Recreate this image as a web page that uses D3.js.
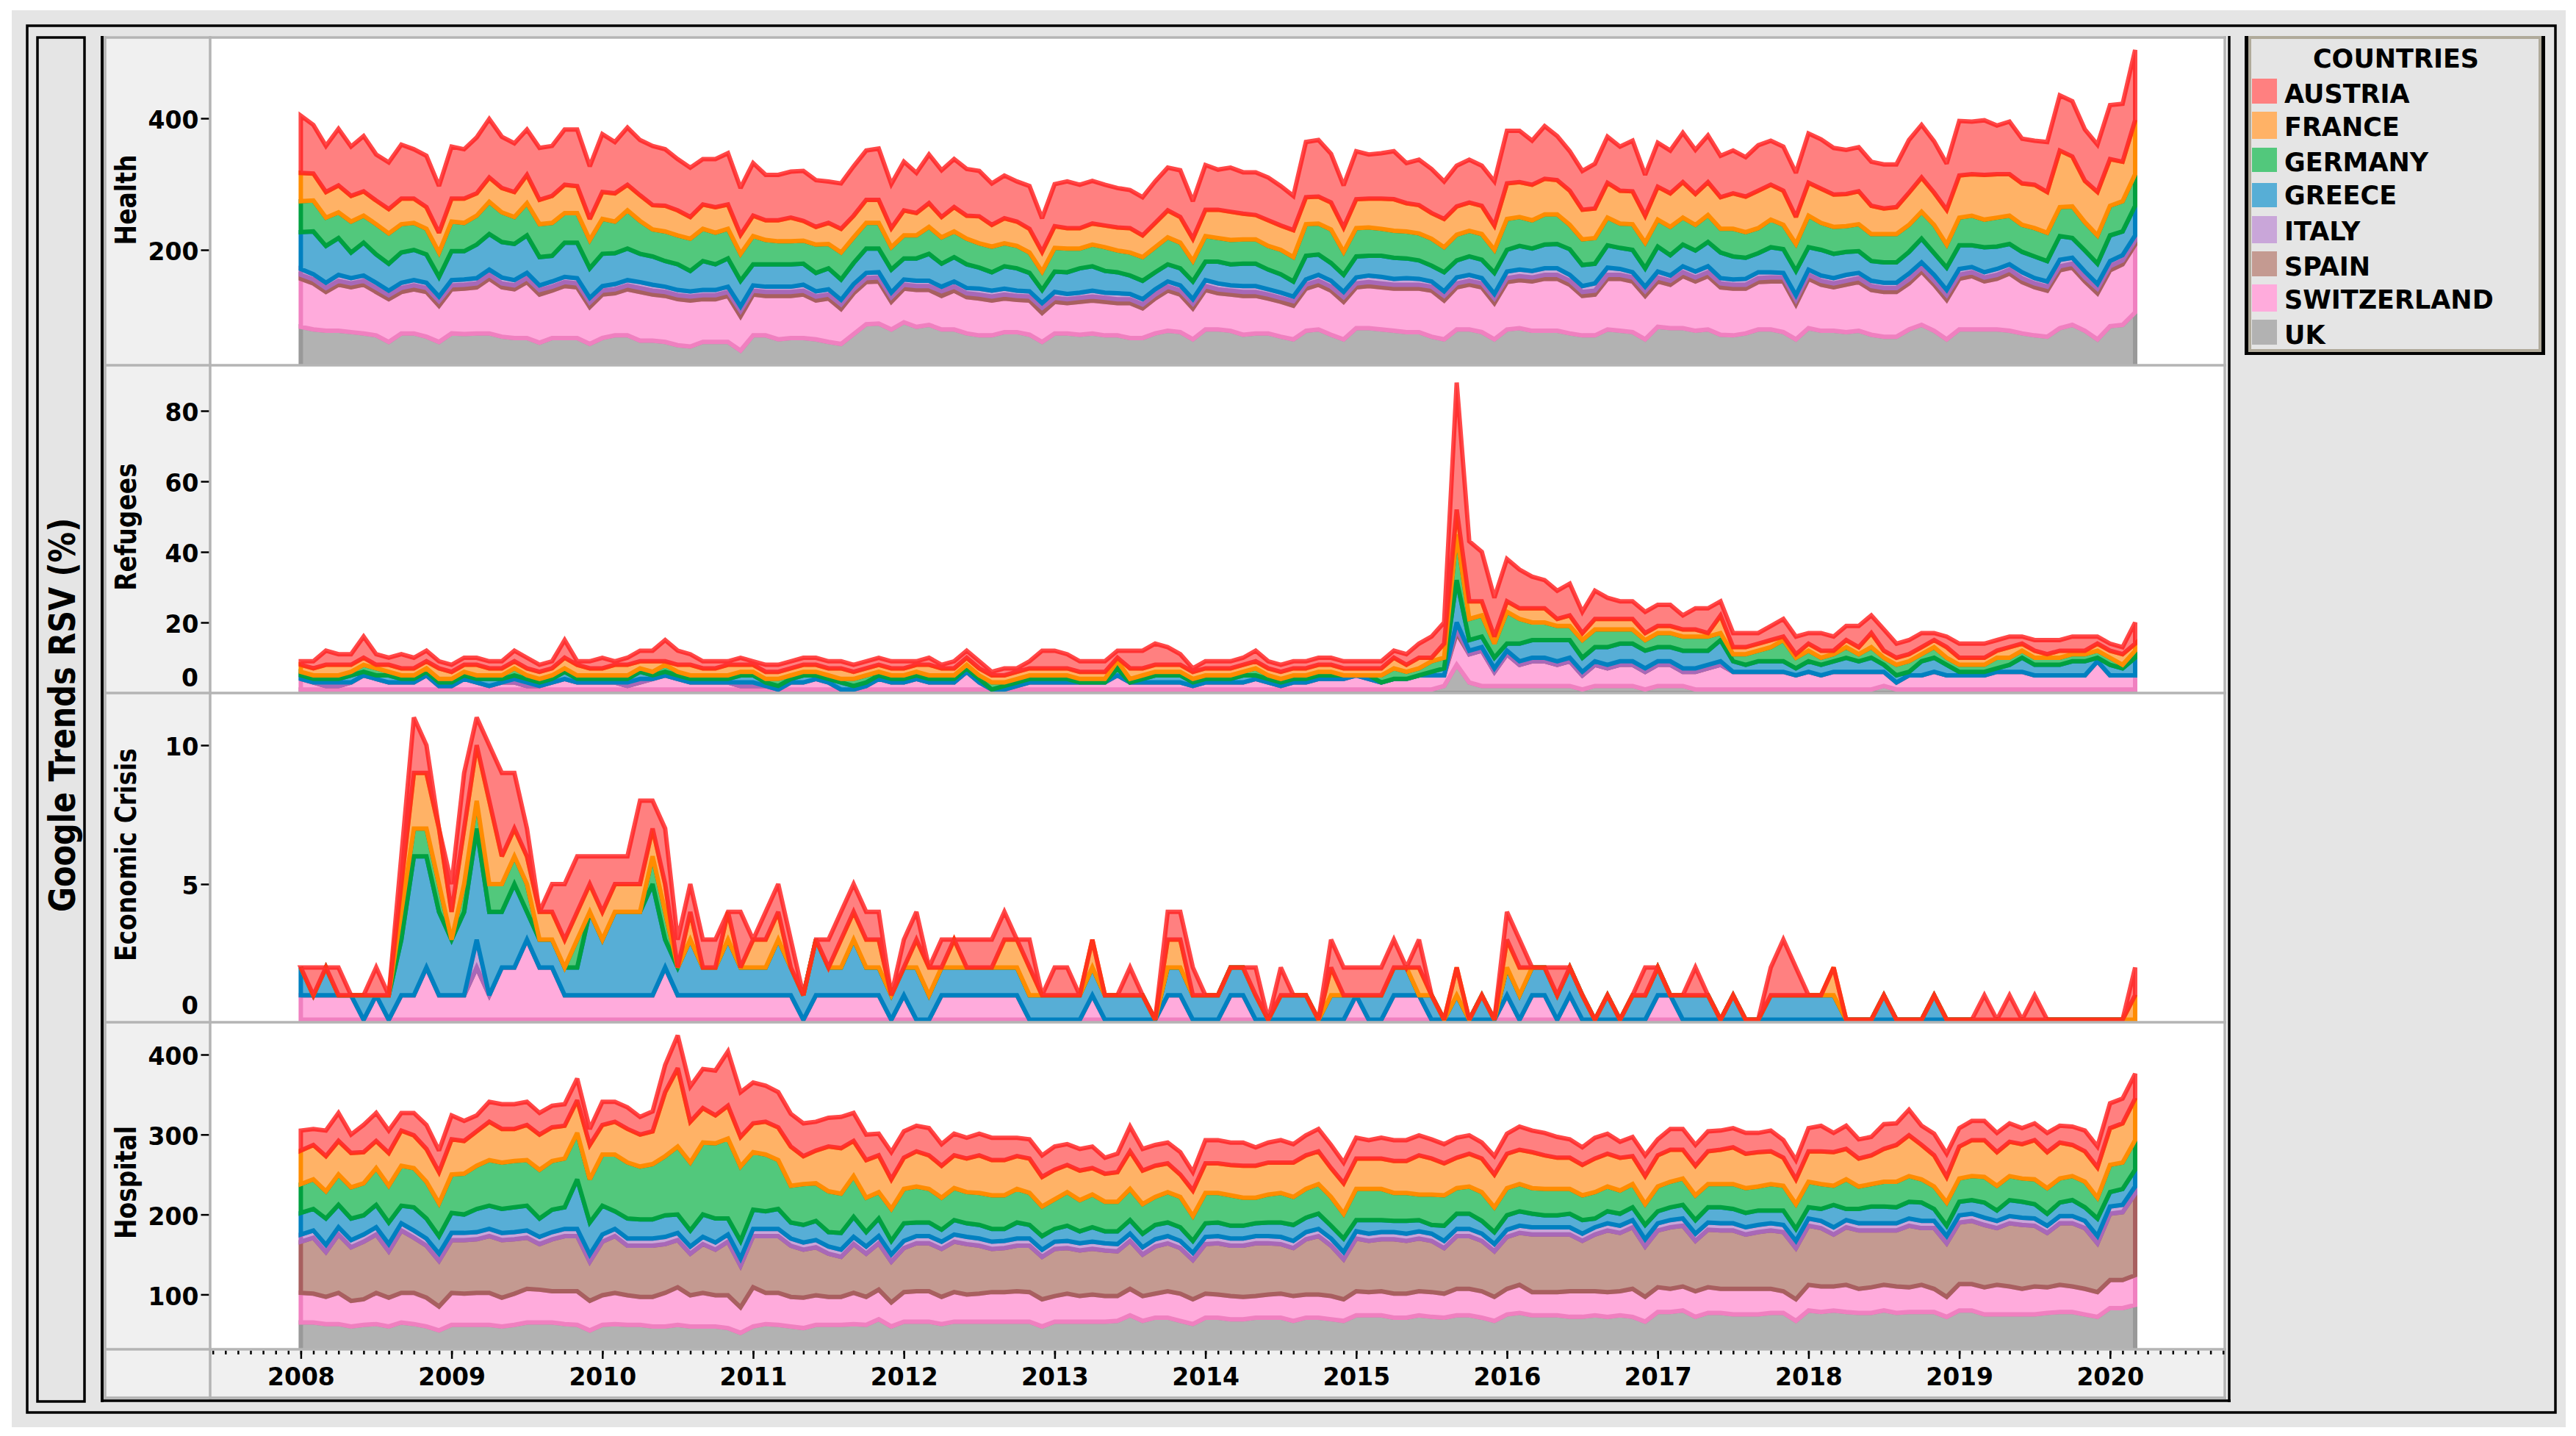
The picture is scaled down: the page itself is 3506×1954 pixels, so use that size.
<!DOCTYPE html>
<html><head><meta charset="utf-8">
<script src="https://cdn.jsdelivr.net/npm/d3@7"></script>
<style>html,body{margin:0;padding:0;background:#fff}svg{display:block}text{font-family:"DejaVu Sans",sans-serif;font-weight:bold;fill:#000}</style>
</head><body><svg id="c" width="3506" height="1954"></svg>
<script>
const yearLabels=[2008,2009,2010,2011,2012,2013,2014,2015,2016,2017,2018,2019,2020];
const countries=["UK","SWITZERLAND","SPAIN","ITALY","GREECE","GERMANY","FRANCE","AUSTRIA"];
const legendOrder=["AUSTRIA","FRANCE","GERMANY","GREECE","ITALY","SPAIN","SWITZERLAND","UK"];
const fillColors=["#b2b2b2","#ffabdc","#c49a91","#c9a6d9","#57aed6","#52c87c","#ffb266","#ff8080"];
const lineColors=["#999999","#f080c0","#a85f5f","#a868b8","#0080c0","#00a040","#ff8c00","#ff2020"];
const lineAlpha=[1,1,1,1,1,1,1,0.82];

// HEALTH
const healthAustria=[87,74,70,86,75,84,70,71,82,75,
78,71,79,75,85,89,78,74,69,79,
76,84,86,80,88,78,87,84,90,86,
78,75,69,73,78,71,80,69,69,70,
76,71,63,69,75,75,78,67,74,61,
74,71,73,71,69,63,65,61,65,51,
64,71,66,65,62,60,58,58,63,65,
71,57,68,61,67,63,65,65,60,52,
84,86,74,64,73,67,69,73,61,69,
67,57,62,65,61,67,80,78,67,80,
67,60,59,68,70,67,77,62,67,65,
75,67,71,63,65,60,69,67,67,67,
75,75,71,67,67,67,67,65,80,80,
78,70,83,80,83,74,80,68,67,76,
84,84,78,72,82,88,107];
const healthFrance=[43,41,39,41,39,37,36,37,39,37,
33,30,35,37,34,37,37,38,43,37,
41,43,41,32,41,43,39,39,37,39,
38,33,37,39,37,29,31,30,32,36,
30,27,32,36,33,35,35,29,38,34,
36,31,37,35,41,33,38,37,36,30,
33,31,31,32,33,35,37,33,37,41,
39,34,40,43,43,39,37,39,37,41,
41,41,41,37,44,44,46,48,43,43,
39,43,43,43,43,37,54,53,54,54,
52,52,45,45,53,50,50,41,50,51,
54,47,50,48,54,54,57,53,52,41,
50,52,49,49,50,43,39,41,49,52,
49,53,64,63,68,66,63,63,66,62,
86,76,63,66,71,60,82];
const healthGermany=[47,47,43,39,47,41,46,46,43,41,
39,37,45,43,44,49,45,41,49,50,
50,45,45,43,53,48,58,50,41,45,
44,49,49,48,45,41,43,37,35,35,
35,43,37,41,39,39,39,34,35,35,
41,40,39,39,37,39,35,34,31,28,
36,36,30,33,36,33,35,36,38,41,
39,31,39,36,37,37,37,36,37,37,
48,47,51,35,43,43,41,41,41,41,
41,38,39,39,39,35,47,44,43,46,
45,37,39,39,42,37,39,39,41,43,
41,39,41,36,42,39,38,42,37,41,
48,41,41,39,41,41,43,43,41,41,
43,35,42,45,42,44,43,41,43,43,
44,48,43,43,45,46,48];
const healthGreece=[56,65,56,56,39,50,43,41,46,46,
43,30,44,43,51,54,54,55,57,43,
39,52,54,45,49,47,48,43,43,39,
39,31,44,39,43,39,32,34,34,34,
32,28,32,31,32,37,36,35,32,34,
41,35,37,36,32,28,34,34,28,20,
31,33,37,37,33,32,28,28,26,26,
26,27,28,33,32,34,34,30,28,23,
36,31,27,26,32,30,32,32,30,28,
24,29,26,28,28,32,33,36,34,36,
37,39,32,30,34,32,34,28,38,31,
33,32,37,39,35,32,29,38,36,37,
34,39,37,35,33,30,31,31,33,36,
33,34,36,33,38,34,31,31,33,31,
36,30,32,31,39,36,45];
const healthItaly=[9,8,8,9,8,8,8,7,8,8,
8,7,8,8,8,8,9,8,8,7,
8,8,8,7,7,8,8,9,9,8,
8,8,8,8,8,7,8,8,8,8,
9,8,8,7,8,8,8,7,8,8,
8,7,8,8,9,9,9,8,8,7,
9,8,8,9,8,9,8,8,8,8,
8,7,9,9,8,9,9,8,8,7,
8,9,9,8,9,10,10,9,10,9,
8,7,9,9,8,7,10,10,10,10,
10,9,9,11,11,9,8,7,9,8,
9,9,9,8,8,9,9,8,7,7,
8,8,8,9,8,8,8,8,9,8,
9,8,9,8,8,9,8,9,8,8,
10,9,9,7,8,8,8];
const healthSpain=[6,6,6,6,6,6,6,6,6,6,
6,7,6,6,6,6,6,6,6,7,
6,6,6,7,6,6,6,6,6,6,
6,6,6,6,6,8,6,6,6,6,
6,6,6,7,6,6,6,7,6,6,
6,7,6,6,6,6,6,6,6,8,
6,6,6,6,6,6,6,6,6,6,
6,7,6,6,6,6,6,6,6,7,
6,6,6,7,6,6,6,6,6,6,
6,7,6,6,6,7,6,6,6,6,
6,6,6,6,6,6,6,7,6,6,
6,6,6,6,6,6,6,6,6,7,
6,6,6,6,6,6,6,6,6,6,
6,7,6,6,6,6,6,6,6,6,
6,6,6,7,6,6,6];
const healthSwitzerland=[73,70,59,70,68,74,66,65,63,67,
68,55,67,69,70,83,75,74,85,73,
72,79,77,56,66,64,70,74,70,70,
70,70,65,65,70,52,62,60,66,64,
66,59,66,53,62,64,64,42,51,56,
53,51,59,55,56,53,51,49,52,44,
48,46,50,50,51,49,53,45,53,61,
57,47,60,55,55,59,57,53,53,51,
64,68,67,57,62,64,64,64,66,66,
70,59,64,68,68,55,72,73,75,79,
79,74,60,62,77,79,77,66,69,66,
79,75,81,72,71,68,72,73,77,53,
75,70,66,72,74,68,68,68,70,81,
70,60,77,81,73,77,87,78,73,70,
88,87,75,70,85,92,103];
const healthUK=[83,79,77,77,75,73,70,60,73,73,
68,60,73,72,73,73,68,66,66,59,
66,66,66,57,66,70,70,62,62,60,
55,53,60,60,60,47,70,70,64,66,
66,64,60,57,72,87,88,79,90,83,
86,79,79,73,70,70,75,75,71,60,
73,73,71,73,70,70,66,66,73,77,
75,64,79,79,77,71,73,73,68,64,
77,79,71,64,81,81,79,77,75,75,
68,64,79,79,75,64,79,81,77,77,
77,73,70,70,79,77,75,64,83,81,
81,77,79,71,70,73,79,79,75,64,
81,77,77,75,77,71,68,68,79,86,
77,64,79,79,79,79,77,73,70,68,
81,86,77,64,84,86,105];

// REFUGEES
const refugeesAustria=[1,2,4,3,3,6,3,2,4,3,
3,2,2,2,2,2,2,3,3,2,
2,5,1,2,3,1,2,3,3,6,
4,3,2,2,1,2,1,2,2,2,
2,2,2,2,2,2,2,2,2,1,
2,1,2,2,2,1,2,1,2,5,
5,4,3,3,3,2,5,5,6,5,
3,1,2,2,2,2,3,2,2,2,
2,2,2,2,2,2,2,2,3,4,
6,6,36,17,14,11,12,11,9,8,
8,9,6,8,6,5,5,6,6,6,
4,6,7,4,4,4,3,4,5,5,
3,5,4,4,6,5,6,4,4,4,
2,3,4,4,4,3,3,2,3,4,
3,4,4,2,2,2,6];
const refugeesFrance=[2,2,3,3,2,2,1,2,2,2,
2,3,2,2,3,2,2,2,2,2,
2,3,3,2,2,3,3,2,3,1,
2,3,2,2,3,2,2,2,2,2,
2,2,2,3,2,2,2,2,2,2,
3,2,2,2,2,2,2,2,2,2,
2,2,2,2,2,1,3,2,2,2,
2,2,2,2,2,2,2,2,2,2,
2,2,2,2,2,2,2,3,2,3,
1,4,7,5,4,2,3,3,4,4,
2,3,2,3,3,3,3,2,2,2,
2,2,1,5,2,2,2,2,1,1,
2,2,1,2,2,4,2,2,2,2,
2,3,2,2,2,2,3,2,2,1,
2,1,1,2,2,3,2];
const refugeesGermany=[1,1,1,1,1,2,2,1,1,1,
1,1,1,1,1,1,1,2,1,1,
1,1,1,1,1,1,1,1,1,2,
1,1,1,1,1,1,1,1,2,1,
1,1,1,1,2,2,1,1,1,1,
1,1,1,1,1,2,1,1,1,1,
1,1,1,1,1,2,1,1,1,1,
1,1,1,1,1,1,2,1,1,1,
1,1,1,0,0,0,2,3,2,2,
3,3,13,6,6,4,9,7,5,5,
4,4,5,5,5,4,4,3,4,4,
4,4,4,2,2,3,3,4,6,3,
3,2,2,3,2,3,2,3,3,2,
3,2,2,2,2,3,2,2,2,2,
2,2,2,2,2,1,2];
const refugeesGreece=[1,1,1,1,2,1,1,2,1,1,
1,1,1,1,1,2,1,1,1,1,
1,2,1,1,1,1,1,2,1,1,
1,1,1,1,1,2,2,1,1,1,
2,1,1,2,1,1,1,1,1,1,
1,1,1,1,1,0,1,1,1,1,
1,1,0,0,0,2,0,1,2,2,
2,1,1,1,1,2,1,1,1,1,
1,1,1,1,0,1,0,0,0,0,
1,2,12,3,3,3,2,5,5,5,
6,5,4,4,5,5,5,5,4,4,
5,5,4,6,3,2,3,3,3,2,
3,3,3,4,3,4,2,2,1,4,
4,3,1,1,1,1,2,4,3,3,
3,4,4,1,3,2,5];
const refugeesItaly=[0,0,1,1,0,0,0,0,0,0,
0,0,0,0,0,0,0,1,1,0,
0,0,0,0,0,0,1,1,0,0,
0,0,0,0,0,1,1,0,0,0,
0,0,0,0,0,0,0,0,0,0,
0,0,0,0,0,0,0,0,0,0,
0,0,0,0,0,0,0,0,0,0,
0,0,0,0,0,0,0,0,0,0,
0,0,0,0,0,0,0,0,0,0,
0,0,2,1,1,1,1,1,1,1,
1,1,1,1,1,1,1,1,1,1,
1,1,1,1,0,0,0,0,0,0,
0,0,0,0,0,0,0,0,0,0,
0,0,0,0,0,0,0,0,0,0,
0,0,0,0,0,0,0];
const refugeesSpain=[0,0,0,0,0,0,0,0,0,0,
0,0,0,0,0,0,0,0,0,0,
0,0,0,0,0,0,0,0,0,0,
0,0,0,0,0,0,0,0,0,0,
0,0,0,0,0,0,0,0,0,0,
0,0,0,0,0,0,0,0,0,0,
0,0,0,0,0,0,0,0,0,0,
0,0,0,0,0,0,0,0,0,0,
0,0,0,0,0,0,0,0,0,0,
0,0,1,0,0,0,0,0,0,0,
0,0,0,0,0,0,0,0,0,0,
0,0,0,0,0,0,0,0,0,0,
0,0,0,0,0,0,0,0,0,0,
0,0,0,0,0,0,0,0,0,0,
0,0,0,0,0,0,0];
const refugeesSwitzerland=[3,2,1,1,2,4,3,2,2,2,
4,1,1,3,2,1,2,2,1,1,
2,3,2,2,2,2,1,2,3,4,
3,2,2,2,2,1,1,1,0,2,
2,3,2,0,0,1,3,2,2,3,
2,2,2,5,2,0,0,1,2,2,
2,2,2,2,2,4,2,2,2,2,
2,1,2,2,2,2,3,2,1,2,
2,3,3,3,4,3,2,3,3,4,
4,3,9,8,10,4,9,6,7,7,
6,7,4,6,5,6,6,5,6,6,
4,5,6,7,5,5,5,5,5,4,
5,4,5,5,5,5,4,2,4,4,
5,4,4,4,4,5,5,5,4,4,
4,4,4,8,4,4,4];
const refugeesUK=[1,1,1,1,1,1,1,1,1,1,
1,1,1,1,1,1,1,1,1,1,
1,1,1,1,1,1,1,1,1,1,
1,1,1,1,1,1,1,1,1,1,
1,1,1,1,1,1,1,1,1,1,
1,1,1,1,1,1,1,1,1,1,
1,1,1,1,1,1,1,1,1,1,
1,1,1,1,1,1,1,1,1,1,
1,1,1,1,1,1,1,1,1,1,
1,2,8,3,2,2,2,2,2,2,
2,2,1,2,2,2,2,1,2,2,
2,1,1,1,1,1,1,1,1,1,
1,1,1,1,1,1,2,1,1,1,
1,1,1,1,1,1,1,1,1,1,
1,1,1,1,1,1,1];

// ECONOMIC CRISIS
const crisisAustria=[0,1,0,1,0,0,1,0,1,2,
1,0,1,2,1,2,3,2,1,0,
1,2,2,1,2,1,1,3,1,2,
1,1,1,1,0,2,0,1,1,1,
0,0,1,1,1,1,1,0,1,1,
0,1,0,1,1,1,1,0,1,0,
1,1,0,0,0,0,1,0,0,1,
1,1,0,0,0,0,1,0,1,0,
0,0,1,1,1,1,1,1,0,1,
0,0,0,0,0,0,1,1,0,0,
1,0,0,0,0,0,0,1,0,0,
0,1,0,0,0,0,0,1,2,1,
0,0,0,0,0,0,0,0,0,0,
0,0,0,0,1,0,1,0,1,0,
0,0,0,0,0,0,1];
const crisisFrance=[0,0,0,0,0,0,0,0,1,2,
2,2,1,2,2,3,1,1,1,1,
1,1,1,1,1,1,1,1,1,1,
0,1,0,0,1,0,1,1,1,0,
0,0,0,1,1,1,1,0,0,1,
1,0,1,0,0,0,1,1,1,0,
0,0,0,1,0,0,0,0,0,1,
1,0,0,0,0,0,0,0,0,0,
0,0,1,0,0,0,0,0,0,1,
0,0,1,0,0,0,1,1,0,0,
0,0,0,0,0,0,0,0,0,0,
0,0,0,0,0,0,0,0,0,0,
0,0,1,0,0,0,0,0,0,0,
0,0,0,0,0,0,0,0,0,0,
0,0,0,0,0,0,1];
const crisisGermany=[0,0,0,0,0,0,0,0,1,1,
1,1,0,1,1,1,1,1,1,0,
0,0,1,0,0,0,0,0,1,1,
0,0,0,0,0,0,0,0,0,0,
0,0,0,0,0,0,0,0,0,0,
0,0,0,0,0,0,0,0,0,0,
0,0,0,0,0,0,0,0,0,0,
0,0,0,0,0,0,0,0,0,0,
0,0,0,0,0,0,0,0,0,0,
0,0,0,0,0,0,0,0,0,0,
0,0,0,0,0,0,0,0,0,0,
0,0,0,0,0,0,0,0,0,0,
0,0,0,0,0,0,0,0,0,0,
0,0,0,0,0,0,0,0,0,0,
0,0,0,0,0,0,0];
const crisisGreece=[1,0,1,0,0,1,0,1,2,5,
4,3,2,3,4,3,2,3,1,1,
1,1,1,3,2,3,3,3,4,1,
1,2,1,1,2,1,1,1,2,1,
1,2,1,1,2,1,1,1,1,2,
1,1,1,1,1,1,1,1,1,1,
1,1,1,1,1,1,1,1,0,1,
1,1,1,1,1,1,1,0,1,1,
1,0,1,1,0,1,1,1,1,0,
1,0,1,0,1,0,1,1,1,1,
1,1,1,0,1,0,1,1,1,0,
1,1,1,0,1,0,0,1,1,1,
1,1,1,0,0,0,1,0,0,0,
1,0,0,0,0,0,0,0,0,0,
0,0,0,0,0,0,0];
const crisisItaly=[0,0,0,0,0,0,0,0,0,0,
0,0,0,0,1,0,0,0,0,0,
0,0,0,0,0,0,0,0,0,0,
0,0,0,0,0,0,0,0,0,0,
0,0,0,0,0,0,0,0,0,0,
0,0,0,0,0,0,0,0,0,0,
0,0,0,0,0,0,0,0,0,0,
0,0,0,0,0,0,0,0,0,0,
0,0,0,0,0,0,0,0,0,0,
0,0,0,0,0,0,0,0,0,0,
0,0,0,0,0,0,0,0,0,0,
0,0,0,0,0,0,0,0,0,0,
0,0,0,0,0,0,0,0,0,0,
0,0,0,0,0,0,0,0,0,0,
0,0,0,0,0,0,0];
const crisisSpain=[0,0,0,0,0,0,0,0,0,0,
0,0,0,0,0,0,0,0,0,0,
0,0,0,0,0,0,0,0,0,0,
0,0,0,0,0,0,0,0,0,0,
0,0,0,0,0,0,0,0,0,0,
0,0,0,0,0,0,0,0,0,0,
0,0,0,0,0,0,0,0,0,0,
0,0,0,0,0,0,0,0,0,0,
0,0,0,0,0,0,0,0,0,0,
0,0,0,0,0,0,0,0,0,0,
0,0,0,0,0,0,0,0,0,0,
0,0,0,0,0,0,0,0,0,0,
0,0,0,0,0,0,0,0,0,0,
0,0,0,0,0,0,0,0,0,0,
0,0,0,0,0,0,0];
const crisisSwitzerland=[1,1,1,1,1,0,1,0,1,1,
2,1,1,1,2,1,2,2,3,2,
2,1,1,1,1,1,1,1,1,2,
1,1,1,1,1,1,1,1,1,1,
0,1,1,1,1,1,1,0,1,0,
0,1,1,1,1,1,1,1,0,0,
0,0,0,1,0,0,0,0,0,1,
1,0,0,0,1,1,0,0,0,0,
0,0,0,0,1,0,0,1,1,1,
0,0,0,0,0,0,1,0,1,1,
0,1,0,0,0,0,0,0,1,1,
0,0,0,0,0,0,0,0,0,0,
0,0,0,0,0,0,0,0,0,0,
0,0,0,0,0,0,0,0,0,0,
0,0,0,0,0,0,0];
const crisisUK=[0,0,0,0,0,0,0,0,0,0,
0,0,0,0,0,0,0,0,0,0,
0,0,0,0,0,0,0,0,0,0,
0,0,0,0,0,0,0,0,0,0,
0,0,0,0,0,0,0,0,0,0,
0,0,0,0,0,0,0,0,0,0,
0,0,0,0,0,0,0,0,0,0,
0,0,0,0,0,0,0,0,0,0,
0,0,0,0,0,0,0,0,0,0,
0,0,0,0,0,0,0,0,0,0,
0,0,0,0,0,0,0,0,0,0,
0,0,0,0,0,0,0,0,0,0,
0,0,0,0,0,0,0,0,0,0,
0,0,0,0,0,0,0,0,0,0,
0,0,0,0,0,0,0];

// HOSPITAL
const hospitalAustria=[25,20,32,35,23,34,35,28,22,28,
30,27,30,25,20,25,31,31,29,27,
27,27,27,20,29,25,27,22,25,34,
41,44,49,56,68,56,51,45,44,41,
41,36,36,39,35,32,27,34,33,32,
34,27,27,26,27,28,28,23,24,27,
29,26,27,27,20,23,31,27,26,26,
28,23,29,29,28,29,23,25,28,23,
25,28,29,26,26,23,26,26,26,25,
24,24,25,23,20,23,25,29,27,28,
26,23,22,26,25,20,24,26,20,26,
26,26,25,24,24,26,24,26,22,24,
29,32,24,29,24,23,31,27,32,24,
27,29,23,24,24,24,23,20,21,24,
21,23,26,26,31,31,31];
const hospitalFrance=[42,43,44,42,43,39,34,41,44,41,
41,39,44,41,43,48,42,40,44,44,
42,41,41,43,37,41,42,40,41,80,
98,51,43,35,41,37,36,41,41,49,
35,41,56,57,44,47,46,37,39,44,
42,40,41,42,47,44,44,41,43,37,
37,34,37,33,35,37,47,42,39,36,
28,32,37,37,38,40,40,40,38,43,
42,41,36,38,38,38,38,40,40,49,
45,40,38,41,42,41,43,43,45,42,
39,39,38,42,41,41,35,35,39,40,
36,37,41,43,46,43,43,41,35,31,
38,41,42,38,35,36,41,46,51,43,
39,32,40,45,46,42,43,43,49,45,
45,39,38,38,46,49,52];
const hospitalGermany=[36,37,34,38,39,40,46,46,50,49,
46,41,48,51,54,57,58,58,57,61,
61,61,58,54,64,71,70,66,69,74,
85,85,90,94,100,93,72,71,61,46,
51,47,51,49,51,43,33,40,43,45,
42,40,40,39,40,42,42,42,40,37,
37,42,39,41,37,37,39,37,35,38,
38,31,38,37,38,35,32,35,37,35,
36,37,36,31,39,39,39,35,35,32,
38,38,32,34,36,31,34,34,32,33,
33,31,31,33,31,29,29,26,31,32,
33,31,29,29,31,31,30,33,31,31,
32,31,24,37,28,28,31,32,32,29,
28,29,29,30,32,31,30,29,31,32,
30,30,32,26,34,33,37];
const hospitalGreece=[27,27,33,28,27,24,28,27,22,29,
25,22,25,23,29,29,30,31,31,23,
28,27,62,40,36,22,25,24,24,27,
23,20,28,30,20,22,24,22,25,20,
22,24,18,21,25,18,22,17,22,17,
17,15,18,17,17,16,15,20,17,17,
16,19,15,18,15,16,17,17,18,17,
17,15,17,17,16,16,16,17,18,20,
18,19,16,17,14,17,15,14,16,14,
11,19,19,19,16,15,18,18,17,15,
15,17,17,11,15,15,16,18,15,16,
17,17,19,20,18,18,18,16,18,15,
14,15,28,14,18,21,21,20,21,23,
15,13,17,17,19,13,20,20,18,15,
17,20,17,22,18,20,21];
const hospitalItaly=[9,9,9,9,9,9,9,9,9,9,
9,9,9,9,9,9,9,9,9,9,
9,9,9,9,9,9,9,9,9,9,
9,9,9,9,9,9,9,9,9,9,
9,9,9,9,9,9,9,9,9,9,
9,9,9,9,9,9,9,9,9,9,
9,9,9,9,9,9,9,9,9,9,
9,9,9,9,9,9,9,9,9,9,
9,9,9,9,9,9,9,9,9,9,
9,9,9,9,9,9,9,9,9,9,
9,9,9,9,9,9,9,9,9,9,
9,9,9,9,9,9,9,9,9,9,
9,9,9,9,9,9,9,9,9,9,
9,9,9,9,9,9,9,9,9,9,
9,9,9,9,9,9,9];
const hospitalSpain=[64,70,56,73,67,72,73,58,78,69,
65,57,66,67,67,71,72,68,64,57,
65,69,69,49,67,71,62,64,64,61,
59,52,61,57,67,52,64,71,71,64,
60,60,54,50,61,54,58,51,55,60,
60,60,63,63,60,54,55,57,58,53,
59,57,57,57,57,56,60,52,59,60,
57,49,62,64,63,64,66,64,62,60,
69,73,63,50,66,64,65,68,66,66,
64,57,66,66,63,57,65,65,72,72,
72,71,63,71,77,73,77,63,71,77,
76,63,72,73,73,68,71,73,74,64,
74,73,65,72,73,71,68,70,77,71,
76,67,77,79,78,71,79,80,76,68,
77,79,76,61,83,85,102];
const hospitalSwitzerland=[37,36,34,39,32,32,39,36,37,39,
36,30,40,39,40,40,36,39,42,41,
39,41,42,37,37,39,37,35,37,42,
47,39,42,39,41,32,49,39,40,37,
38,37,35,35,39,35,37,30,37,38,
38,34,37,34,35,37,37,38,37,34,
32,35,32,34,32,31,33,31,30,33,
34,31,30,29,29,28,27,29,30,31,
29,29,29,27,30,29,30,30,30,30,
31,30,33,33,33,30,32,35,29,29,
29,32,32,30,31,30,35,31,31,29,
30,32,32,30,32,32,32,30,27,27,
32,32,30,34,30,32,32,33,31,34,
29,25,33,33,34,37,35,32,35,32,
34,32,32,31,35,35,37];
const hospitalUK=[65,65,63,63,60,62,63,60,65,63,
60,55,62,62,62,62,60,62,65,65,
65,63,62,55,62,63,62,62,60,60,
62,60,60,60,58,52,60,63,62,60,
58,62,62,62,63,62,69,60,66,66,
66,63,66,66,66,66,66,66,66,60,
66,66,66,66,66,67,74,67,71,71,
67,63,71,71,69,69,71,71,71,67,
71,71,69,67,74,74,74,71,71,74,
72,71,74,74,71,67,75,77,74,74,
74,72,72,74,72,74,72,66,78,78,
80,72,77,77,75,75,75,77,77,67,
80,78,80,78,77,77,80,77,78,78,
78,72,80,80,75,75,75,75,75,77,
78,78,75,72,83,83,87];

const healthTicks=[200,400], refugeesTicks=[20,40,60,80], crisisTicks=[5,10], hospitalTicks=[100,200,300,400];

const panelDefs=[
 {label:"Health",labelY:272,top:51,bottom:497,dom:[0,400],rng:[519,161],ticks:healthTicks,zeroY:null,floor:600,
  series:[healthUK,healthSwitzerland,healthSpain,healthItaly,healthGreece,healthGermany,healthFrance,healthAustria]},
 {label:"Refugees",labelY:717,top:497,bottom:943,dom:[0,80],rng:[943,559],ticks:refugeesTicks,zeroY:922,floor:960,
  series:[refugeesUK,refugeesSwitzerland,refugeesSpain,refugeesItaly,refugeesGreece,refugeesGermany,refugeesFrance,refugeesAustria]},
 {label:"Economic Crisis",labelY:1163,top:943,bottom:1391,dom:[0,10],rng:[1392,1014],ticks:crisisTicks,zeroY:1368,floor:1387.5,
  series:[crisisUK,crisisSwitzerland,crisisSpain,crisisItaly,crisisGreece,crisisGermany,crisisFrance,crisisAustria]},
 {label:"Hospital",labelY:1609,top:1391,bottom:1836,dom:[0,400],rng:[1870.2,1435],ticks:hospitalTicks,zeroY:null,floor:1900,
  series:[hospitalUK,hospitalSwitzerland,hospitalSpain,hospitalItaly,hospitalGreece,hospitalGermany,hospitalFrance,hospitalAustria]}
];

const svg=d3.select("#c");
const rect=(x,y,w,h,f)=>svg.append("rect").attr("x",x).attr("y",y).attr("width",w).attr("height",h).attr("fill",f);
const line=(x1,y1,x2,y2,c,w)=>svg.append("line").attr("x1",x1).attr("y1",y1).attr("x2",x2).attr("y2",y2).attr("stroke",c).attr("stroke-width",w);

rect(16,14,3476,1928,"#e5e5e5");
svg.append("rect").attr("x",37).attr("y",35).attr("width",3441).attr("height",1887).attr("fill","none").attr("stroke","#000").attr("stroke-width",3.5);
// left strip
svg.append("rect").attr("x",51).attr("y",51).attr("width",64).attr("height",1856).attr("fill","#e5e5e5").attr("stroke","#000").attr("stroke-width",3.5);
// main panel
rect(140,49,2894,1859,"#f0f0f0");
rect(287,51,2741,1785,"#fff");
line(139,49,139,1908,"#000",4);
line(3034,49,3034,1908,"#000",3.5);
line(137,1906,3036,1906,"#000",3.5);

const x=d3.scaleLinear().domain([0,144]).range([409.4,2871.8]);
const nMonths=147;
const defs=svg.append("defs");

panelDefs.forEach((p,pi)=>{
  const y=d3.scaleLinear().domain(p.dom).range(p.rng);
  const rows=d3.range(nMonths).map(i=>{const o={i};countries.forEach((c,k)=>o[c]=p.series[k][i]);return o;});
  const stacked=d3.stack().keys(countries)(rows);
  const yc=v=>Math.min(y(v),p.floor);
  const area=d3.area().x(d=>x(d.data.i)).y0(d=>yc(d[0])).y1(d=>yc(d[1]));
  defs.append("clipPath").attr("id","clip"+pi).append("rect").attr("x",287).attr("y",p.top).attr("width",2741).attr("height",p.bottom-p.top);
  const g=svg.append("g").attr("clip-path",`url(#clip${pi})`);
  g.selectAll("path").data(stacked).join("path").attr("d",area)
    .attr("fill",(d,k)=>fillColors[k]).attr("stroke",(d,k)=>lineColors[k])
    .attr("stroke-opacity",(d,k)=>lineAlpha[k]).attr("stroke-width",6).attr("stroke-linejoin","miter").attr("stroke-miterlimit",2.5);
  const ax=svg.append("g").attr("transform","translate(285.5,0)").call(d3.axisLeft(y).tickValues(p.ticks).tickSize(12).tickPadding(3));
  ax.select(".domain").remove();
  ax.selectAll("line").attr("stroke","#000").attr("stroke-width",2.5);
  ax.selectAll("text").attr("dy","0.42em").style("font-size","33px").style("font-family",'"DejaVu Sans"').style("font-weight","bold").attr("fill","#000");
  if(p.zeroY!==null){
    svg.append("text").attr("x",270).attr("y",p.zeroY).attr("dy","0.36em").attr("text-anchor","end").style("font-size","33px").text("0");
  }
  svg.append("text").attr("transform",`translate(185,${p.labelY}) rotate(-90) scale(1,1.2)`).attr("text-anchor","middle").style("font-size","33px").text(p.label);
});

// separators and plot frame
[51,497,943,1391,1836,1902].forEach(yy=>line(142,yy,3030,yy,"#b4b4b4",3.5));
line(143,49,143,1904,"#b4b4b4",3.5);
line(286,49,286,1904,"#b4b4b4",3.5);
line(3028,49,3028,1904,"#b4b4b4",3.5);

// x axis
const minorMonths=d3.range(-7,154);
const minor=svg.append("g").attr("transform","translate(0,1838)").call(d3.axisBottom(x).tickValues(minorMonths).tickSize(5).tickFormat(""));
minor.select(".domain").remove();
minor.selectAll("line").attr("stroke","#000").attr("stroke-width",2.5);
const major=svg.append("g").attr("transform","translate(0,1838)").call(d3.axisBottom(x).tickValues(yearLabels.map((v,i)=>i*12)).tickSize(11).tickPadding(13).tickFormat((d,i)=>yearLabels[i]));
major.select(".domain").remove();
major.selectAll("line").attr("stroke","#000").attr("stroke-width",2.5);
major.selectAll("text").style("font-size","33px").style("font-family",'"DejaVu Sans"').style("font-weight","bold").attr("fill","#000");

// outer label
svg.append("text").attr("transform","translate(102,973) rotate(-90) scale(1,1.2)").attr("text-anchor","middle").style("font-size","41.5px").text("Google Trends RSV (%)");

// legend
rect(3055,49,409,434,"#000");
svg.append("rect").attr("x",3062).attr("y",51).attr("width",395).attr("height",426).attr("fill","#e5e5e5").attr("stroke","#b0aa9a").attr("stroke-width",4);
svg.append("text").attr("x",3261).attr("y",92).attr("text-anchor","middle").style("font-size","35px").text("COUNTRIES");
const swatchTop=[107,152,201,249,294,342,387,435], swatchBot=[141,189,234,282,331,376,424,469], textBase=[140,185,233,278,327,375,420,468];
legendOrder.forEach((n,i)=>{
  rect(3065,swatchTop[i],34,swatchBot[i]-swatchTop[i],fillColors[countries.indexOf(n)]);
  svg.append("text").attr("x",3109).attr("y",textBase[i]).style("font-size","35px").text(n);
});
</script></body></html>
